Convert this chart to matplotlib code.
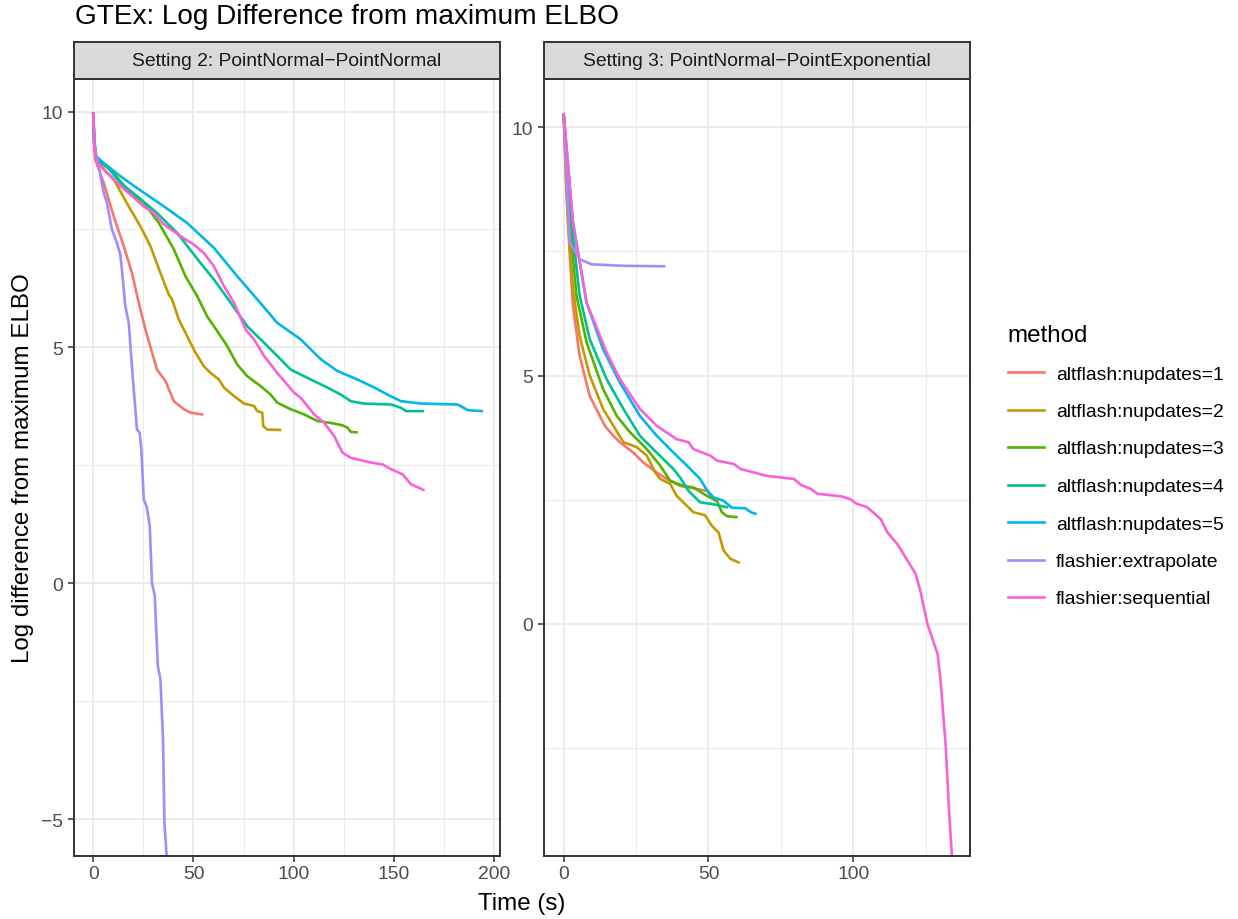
import matplotlib

matplotlib.use("Agg")
import matplotlib.pyplot as plt
from matplotlib.lines import Line2D

plt.rcParams["font.family"] = ["Liberation Sans", "DejaVu Sans"]

# ----------------- DATA -----------------
METHODS = ["altflash:nupdates=1", "altflash:nupdates=2", "altflash:nupdates=3",
           "altflash:nupdates=4", "altflash:nupdates=5",
           "flashier:extrapolate", "flashier:sequential"]
COLORS = ["#F8766D", "#C49A00", "#53B400", "#00C094", "#00B6EB", "#A58AFF", "#FB61D7"]
PANELS = ["Setting 2: PointNormal\u2212PointNormal", "Setting 3: PointNormal\u2212PointExponential"]

# Setting 2 (left panel)
S2_ALT1_T = [0, 0.5, 1, 5.2, 10.2, 15.2, 19.3, 22.7, 26, 31.8, 36, 40.2, 45.2, 48.5, 54.3]
S2_ALT1_Y = [9.96, 9.3, 8.98, 8.49, 7.78, 7.15, 6.58, 5.95, 5.38, 4.53, 4.29, 3.86, 3.69, 3.62, 3.58]
S2_ALT2_T = [0, 0.5, 1.5, 10.2, 17.7, 23.5, 28.5, 33.5, 37.7, 39.3, 42.7, 46.8, 51, 55.2, 58.5,
             62.7, 65.2, 70.2, 75.2, 80.2, 81.8, 84.3, 84.8, 86.8, 93.2]
S2_ALT2_Y = [9.96, 9.3, 8.95, 8.56, 7.99, 7.57, 7.15, 6.58, 6.12, 6.02, 5.59, 5.24, 4.89, 4.6, 4.46,
             4.32, 4.15, 3.97, 3.81, 3.76, 3.65, 3.62, 3.33, 3.26, 3.25]
S2_ALT3_T = [0, 0.5, 1.5, 8.5, 18.5, 25.2, 32.7, 40.2, 46, 51.8, 56.8, 61.8, 66.8, 71.8, 76.8,
             83.5, 88.5, 91.8, 98.5, 105.2, 111.8, 118.5, 124.3, 126.8, 128.5, 131.3]
S2_ALT3_Y = [9.96, 9.3, 8.97, 8.77, 8.28, 8.07, 7.64, 7.08, 6.51, 6.09, 5.66, 5.35, 5.03, 4.64, 4.39,
             4.18, 4.0, 3.83, 3.69, 3.58, 3.44, 3.40, 3.35, 3.30, 3.21, 3.2]
S2_ALT4_T = [0, 0.5, 1.5, 6.8, 13.5, 21.8, 31.8, 41.8, 53.5, 60.2, 68.5, 76.8, 85.2, 91.8, 98.5,
             108.5, 116.8, 123.5, 128.5, 135.2, 148.5, 153.5, 156, 164.3]
S2_ALT4_Y = [9.96, 9.35, 9.0, 8.84, 8.49, 8.21, 7.85, 7.43, 6.79, 6.44, 5.95, 5.45, 5.1, 4.82, 4.53,
             4.32, 4.15, 4.0, 3.86, 3.81, 3.79, 3.72, 3.65, 3.65]
S2_ALT5_T = [0, 0.5, 1.5, 5.2, 13.5, 21.8, 35.2, 46.8, 60.2, 71.8, 81.8, 91.8, 103.5, 113.5, 121.8,
             131.8, 140.2, 146.8, 153.5, 163.5, 181.8, 186.8, 193.8]
S2_ALT5_Y = [9.96, 9.4, 9.05, 8.91, 8.63, 8.38, 7.99, 7.64, 7.11, 6.51, 6.02, 5.52, 5.17, 4.75, 4.5,
             4.32, 4.15, 4.0, 3.86, 3.81, 3.79, 3.67, 3.65]
S2_EXTRA_T = [0, 0.8, 2.7, 5.2, 6.8, 9.3, 11.8, 13.5, 14.3, 16, 17.7, 19.3, 21, 21.8, 23.2, 24,
              25.2, 26.8, 28.2, 29.3, 30.7, 32.2, 33.5, 34.8, 35.5, 36.8]
S2_EXTRA_Y = [9.96, 9.2, 8.84, 8.28, 8.07, 7.5, 7.22, 6.97, 6.65, 5.88, 5.52, 4.6, 3.69, 3.26, 3.19,
              2.84, 1.78, 1.6, 1.21, 0.01, -0.27, -1.75, -2.03, -3.31, -5.07, -5.9]
S2_SEQ_T = [0, 0.5, 1.5, 5.2, 11.8, 18.5, 25.2, 30.2, 35.2, 43.5, 50.2, 55.2, 60.2, 65.2, 70.2, 76,
            80.2, 85.2, 91.8, 100.2, 103.5, 106.8, 110.2, 115.2, 120.2, 124.3, 128.5, 138.5, 144.3,
            148.5, 154.3, 158.5, 164.7]
S2_SEQ_Y = [9.96, 9.3, 8.95, 8.77, 8.49, 8.24, 7.99, 7.85, 7.61, 7.36, 7.18, 7.0, 6.72, 6.3, 5.95,
            5.38, 5.17, 4.82, 4.46, 4.04, 3.93, 3.76, 3.58, 3.4, 3.12, 2.77, 2.66, 2.56, 2.52, 2.42,
            2.31, 2.1, 1.98]

# Setting 3 (right panel)
S3_ALT1_T = [0, 0.9, 2.1, 3.2, 5.5, 9, 14.2, 17.1, 19.4, 24, 27.5, 32.1, 35.6, 40.2, 49.4, 52.3]
S3_ALT1_Y = [10.26, 8.75, 7.41, 6.4, 5.4, 4.59, 3.99, 3.79, 3.66, 3.45, 3.25, 3.05, 2.92, 2.78,
             2.68, 2.48]
S3_ALT2_T = [0, 1.5, 3.2, 5.5, 9, 13.6, 20.6, 25.2, 28.7, 31.6, 33.3, 36.8, 39, 42.5, 44.8, 48.8,
             51.1, 53.5, 55.2, 57.6, 60.4]
S3_ALT2_Y = [10.26, 8.08, 6.74, 5.8, 5.0, 4.33, 3.66, 3.56, 3.39, 3.05, 2.92, 2.82, 2.58, 2.38,
             2.25, 2.19, 1.98, 1.84, 1.48, 1.31, 1.24]
S3_ALT3_T = [0, 2.1, 4.4, 7.9, 13.6, 18.3, 22.9, 28.7, 33.3, 36.8, 41.3, 44.8, 49.4, 52.9, 54.6,
             56.4, 59.6]
S3_ALT3_Y = [10.26, 8.09, 6.61, 5.67, 4.73, 4.19, 3.86, 3.52, 3.19, 2.88, 2.78, 2.75, 2.58, 2.48,
             2.25, 2.17, 2.15]
S3_ALT4_T = [0, 2.7, 5.5, 9, 14.8, 20.6, 26.3, 32.1, 37.9, 40.2, 43.1, 47.1, 51.7, 56.4]
S3_ALT4_Y = [10.26, 8.08, 6.61, 5.73, 4.93, 4.33, 3.79, 3.45, 3.12, 2.95, 2.68, 2.45, 2.41, 2.35]
S3_ALT5_T = [0, 3.2, 7.9, 13.6, 19.4, 26.3, 32.1, 37.9, 42.5, 47.1, 49.4, 51.7, 55.2, 58.1, 62.7,
             64.6, 66.2]
S3_ALT5_Y = [10.26, 8.08, 6.47, 5.53, 4.86, 4.19, 3.79, 3.45, 3.19, 2.92, 2.70, 2.55, 2.48, 2.34,
             2.33, 2.25, 2.22]
S3_EXTRA_T = [0, 2.1, 5.5, 9.6, 20.6, 34.7]
S3_EXTRA_Y = [10.26, 7.68, 7.34, 7.24, 7.21, 7.2]
S3_SEQ_T = [0, 3.2, 7.9, 14.8, 19.4, 26.3, 32.1, 39, 43.1, 44.8, 50.6, 52.9, 58.8, 61.1, 70.2, 79.5,
            81.9, 85.3, 87.6, 95.8, 99.1, 100.8, 104.8, 109.5, 111.8, 115.2, 117, 121.6, 123.3,
            125.6, 129.1, 130.2, 131.9, 133.1, 134.3]
S3_SEQ_Y = [10.26, 8.08, 6.47, 5.47, 4.93, 4.33, 3.99, 3.72, 3.66, 3.52, 3.39, 3.29, 3.22, 3.12,
            2.98, 2.92, 2.80, 2.72, 2.62, 2.57, 2.51, 2.43, 2.35, 2.11, 1.84, 1.61, 1.44, 1.0, 0.63,
            0.0, -0.6, -1.17, -2.45, -3.79, -4.9]

SERIES = [
    [(S2_ALT1_T, S2_ALT1_Y), (S2_ALT2_T, S2_ALT2_Y), (S2_ALT3_T, S2_ALT3_Y), (S2_ALT4_T, S2_ALT4_Y),
     (S2_ALT5_T, S2_ALT5_Y), (S2_EXTRA_T, S2_EXTRA_Y), (S2_SEQ_T, S2_SEQ_Y)],
    [(S3_ALT1_T, S3_ALT1_Y), (S3_ALT2_T, S3_ALT2_Y), (S3_ALT3_T, S3_ALT3_Y), (S3_ALT4_T, S3_ALT4_Y),
     (S3_ALT5_T, S3_ALT5_Y), (S3_EXTRA_T, S3_EXTRA_Y), (S3_SEQ_T, S3_SEQ_Y)],
]
XLIMS = [(-9.6, 202.9), (-6.8, 140.3)]
YLIMS = [(-5.78, 10.69), (-4.67, 10.97)]
XTICKS = [[0, 50, 100, 150, 200], [0, 50, 100]]
XMINOR = [[25, 75, 125, 175], [25, 75, 125]]
YTICKS = [[-5, 0, 5, 10], [0, 5, 10]]
YMINOR = [[-2.5, 2.5, 7.5], [-2.5, 2.5, 7.5]]

# ----------------- LAYOUT (pixels) -----------------
W, H = 1238, 920
PANEL_X = [74, 544]
PANEL_W = 426
PANEL_TOP, PANEL_BOT = 80, 857
STRIP_TOP = 43
DARK = "#333333"
GRID = "#EBEBEB"
SMALL = 13.9   # ggplot 8.8pt
MEDIUM = 17.4  # ggplot 11pt
LINE_W = 1.9


def fx(px):
    return px / W


def fy(py):
    return 1 - py / H


fig = plt.figure(figsize=(W / 100, H / 100), dpi=100)
fig.patch.set_facecolor("white")

for i in range(2):
    ax = fig.add_axes([fx(PANEL_X[i]), fy(PANEL_BOT), PANEL_W / W, (PANEL_BOT - PANEL_TOP) / H])
    ax.set_xlim(*XLIMS[i])
    ax.set_ylim(*YLIMS[i])
    ax.set_xticks(XTICKS[i])
    ax.set_yticks(YTICKS[i])
    ax.set_xticks(XMINOR[i], minor=True)
    ax.set_yticks(YMINOR[i], minor=True)
    ax.set_yticklabels([f"{v:d}".replace("-", "\u2212") for v in YTICKS[i]])
    ax.grid(which="major", color=GRID, linewidth=1.5)
    ax.grid(which="minor", color=GRID, linewidth=0.75)
    ax.set_axisbelow(True)
    ax.tick_params(which="major", length=4.3, width=1.1, color=DARK,
                   labelsize=SMALL, labelcolor="#4D4D4D")
    ax.tick_params(axis="x", which="major", pad=2.3)
    ax.tick_params(axis="y", which="major", pad=3.4)
    ax.tick_params(which="minor", length=0)
    for s in ax.spines.values():
        s.set_color(DARK)
        s.set_linewidth(1.4)
    for (t, y), col in zip(SERIES[i], COLORS):
        ax.plot(t, y, color=col, linewidth=LINE_W, solid_joinstyle="round")

    # facet strip
    sax = fig.add_axes([fx(PANEL_X[i]), fy(PANEL_TOP), PANEL_W / W, (PANEL_TOP - STRIP_TOP) / H])
    sax.set_facecolor("#D9D9D9")
    sax.set_xticks([])
    sax.set_yticks([])
    for s in sax.spines.values():
        s.set_color(DARK)
        s.set_linewidth(1.4)
    sax.text(0.5, 0.5, PANELS[i], ha="center", va="center", fontsize=SMALL,
             color="#1A1A1A", transform=sax.transAxes)

fig.text(fx(75), fy(24.5), "GTEx: Log Difference from maximum ELBO", fontsize=20.2,
         ha="left", va="baseline", color="black")
fig.text(fx(522), fy(910), "Time (s)", fontsize=MEDIUM, ha="center", va="baseline")
fig.text(fx(23), fy(468), "Log difference from maximum ELBO", fontsize=MEDIUM,
         ha="center", va="center", rotation=90)

# legend, laid out like ggplot's guide
fig.text(fx(1007), fy(342), "method", fontsize=MEDIUM, ha="left", va="baseline")
for k, (name, col) in enumerate(zip(METHODS, COLORS)):
    yk = 373 + 37.5 * k
    fig.add_artist(Line2D([fx(1008), fx(1044)], [fy(yk), fy(yk)], color=col,
                          linewidth=LINE_W, transform=fig.transFigure))
    fig.text(fx(1056), fy(yk), name, fontsize=SMALL, ha="left", va="center_baseline")

fig.savefig("out.png", dpi=100, facecolor="white")
